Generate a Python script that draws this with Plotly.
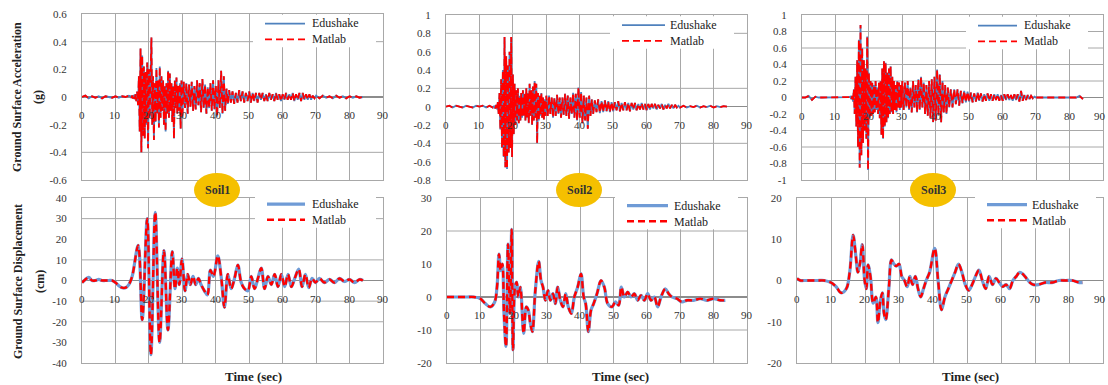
import plotly.graph_objects as go

# ---------------- data ----------------
TIME_ACC = [0, 1, 2, 3, 4, 5, 6, 7, 8, 9, 10, 11, 12, 13, 14,
            14.5, 14.75, 15, 15.25, 15.5, 15.75, 16, 16.25, 16.5, 16.75,
            17, 17.25, 17.5, 17.75, 18, 18.25, 18.5, 18.75, 19, 19.25,
            19.5, 19.75, 20, 20.25, 20.5, 20.75, 21, 21.25, 21.5, 21.75,
            22, 22.25, 22.5, 22.75, 23, 23.25, 23.5, 23.75, 24, 24.25,
            24.5, 24.75, 25, 25.25, 25.5, 25.75, 26, 26.25, 26.5, 26.75,
            27, 27.25, 27.5, 27.75, 28, 28.25, 28.5, 28.75, 29, 29.25,
            29.5, 29.75, 30,
            30.4, 30.8, 31.2, 31.6, 32.0, 32.4, 32.8, 33.2, 33.6, 34.0,
            34.4, 34.8, 35.2, 35.6, 36.0, 36.4, 36.8, 37.2, 37.6, 38.0,
            38.4, 38.8, 39.2, 39.6, 40.0, 40.4, 40.8, 41.2, 41.6, 42.0,
            42.4, 42.8, 43.2, 43.6,
            44, 44.5, 45, 45.5, 46, 46.5, 47, 47.5, 48, 48.5,
            49, 49.5, 50, 50.5, 51, 51.5, 52, 52.5, 53, 53.5,
            54, 54.5, 55, 55.5, 56, 56.5, 57, 57.5, 58, 58.5,
            59, 59.5, 60, 60.5, 61, 61.5, 62, 62.5, 63, 63.5,
            64, 64.5, 65, 65.5, 66, 66.5, 67, 67.5, 68, 68.5,
            69, 69.5,
            70, 71, 72, 73, 74, 75, 76, 77, 78, 79, 80, 81, 82, 83, 84]

ACC_SOIL1 = [0, 0.01, -0.01, 0.005, -0.005, 0.005, -0.01, 0.005, 0, -0.005, 0.005, -0.005, 0.005, 0, 0.01,
             0.005, -0.005, 0.01, -0.01, 0.015, -0.015, 0.02, -0.03, 0.04, -0.06,
             0.15, -0.25, 0.35, -0.40, 0.30, -0.28, 0.22, -0.30, 0.18, -0.20,
             0.25, -0.37, 0.20, -0.15, 0.05, 0.43, -0.20, 0.15, -0.31, 0.10,
             -0.18, 0.21, -0.12, 0.12, -0.22, 0.22, -0.15, 0.15, -0.10, 0.12,
             -0.20, 0.08, -0.25, 0.10, -0.12, 0.19, -0.15, 0.17, -0.10, 0.10,
             -0.18, 0.08, -0.30, 0.12, -0.08, 0.14, -0.12, 0.08, -0.10, 0.10,
             -0.23, 0.12, -0.15,
             0.11, -0.08, 0.10, -0.12, 0.09, -0.07, 0.11, -0.10, 0.08, -0.09,
             0.12, -0.06, 0.10, -0.11, 0.13, -0.08, 0.09, -0.12, 0.07, -0.08,
             0.10, -0.10, 0.12, -0.09, 0.08, -0.14, 0.12, -0.08, 0.19, -0.12,
             0.15, -0.10, 0.06, -0.05,
             0.05, -0.04, 0.04, -0.05, 0.03, -0.04, 0.05, -0.03, 0.04, -0.04,
             0.03, -0.03, 0.04, -0.04, 0.03, -0.03, 0.03, -0.04, 0.03, -0.02,
             0.03, -0.03, 0.02, -0.03, 0.03, -0.02, 0.02, -0.03, 0.03, -0.02,
             0.02, -0.03, 0.02, -0.02, 0.03, -0.02, 0.02, -0.02, 0.03, -0.03,
             0.02, -0.02, 0.03, -0.03, 0.03, -0.02, 0.02, -0.02, 0.02, -0.02,
             0.01, -0.01,
             0.01, -0.01, 0.01, -0.005, 0.005, -0.01, 0.01, -0.005, 0.005, -0.01, 0.005, -0.005, 0.005, -0.005, 0]

ACC_SOIL2 = [0, 0.01, -0.01, 0.01, 0, -0.01, 0.01, 0, -0.01, 0.01, 0, 0.01, -0.01, 0.01, -0.01,
             0.01, -0.02, 0.02, -0.03, 0.05, -0.08, 0.15, -0.25, 0.30, -0.45,
             0.40, -0.55, 0.76, -0.66, 0.55, -0.68, 0.45, -0.50, 0.60, -0.45,
             0.76, -0.55, 0.35, -0.30, 0.25, -0.20, 0.18, -0.15, 0.20, -0.18,
             0.12, -0.15, 0.15, -0.12, 0.18, -0.10, 0.14, -0.15, 0.20, -0.12,
             0.15, -0.18, 0.25, -0.10, 0.18, -0.20, 0.22, -0.15, 0.28, -0.12,
             0.25, -0.40, 0.15, -0.15, 0.12, -0.10, 0.15, -0.12, 0.10, -0.14,
             0.08, -0.10, 0.12,
             -0.10, 0.12, -0.08, 0.10, -0.12, 0.09, -0.10, 0.13, -0.08, 0.10,
             -0.12, 0.10, -0.09, 0.14, -0.10, 0.12, -0.13, 0.10, -0.08, 0.15,
             -0.12, 0.14, -0.15, 0.21, -0.12, 0.16, -0.18, 0.12, -0.15, 0.10,
             -0.24, 0.12, -0.10, 0.08,
             -0.08, 0.07, -0.06, 0.08, -0.07, 0.06, -0.06, 0.07, -0.05, 0.06,
             -0.06, 0.05, -0.05, 0.05, -0.04, 0.06, -0.05, 0.04, -0.04, 0.05,
             -0.04, 0.04, -0.05, 0.04, -0.03, 0.04, -0.04, 0.03, -0.03, 0.04,
             -0.03, 0.03, -0.04, 0.03, -0.03, 0.03, -0.02, 0.03, -0.03, 0.02,
             -0.02, 0.03, -0.03, 0.02, -0.02, 0.03, -0.02, 0.02, -0.02, 0.02,
             -0.01, 0.01,
             -0.01, 0.01, -0.01, 0.005, -0.005, 0.01, -0.01, 0.005, -0.005, 0.01, -0.01, 0.005, -0.005, 0.005, 0]

ACC_SOIL3 = [0, 0, 0.02, -0.03, 0.01, 0, 0, 0, 0, 0, 0, 0, 0, 0, 0.005,
             0.01, -0.02, 0.02, -0.05, 0.10, -0.20, 0.25, -0.35, 0.45, -0.60,
             0.70, -0.85, 0.88, -0.70, 0.60, -0.55, 0.45, -0.40, 0.35, -0.50,
             0.74, -0.88, 0.30, -0.25, 0.20, -0.22, 0.18, -0.20, 0.15, -0.18,
             0.20, -0.15, 0.12, -0.20, 0.18, -0.25, 0.20, -0.45, 0.35, -0.50,
             0.44, -0.35, 0.42, -0.30, 0.30, -0.25, 0.35, -0.20, 0.38, -0.18,
             0.25, -0.20, 0.20, -0.15, 0.15, -0.18, 0.20, -0.12, 0.18, -0.15,
             0.15, -0.12, 0.20,
             -0.15, 0.18, -0.12, 0.20, -0.15, 0.12, -0.18, 0.20, -0.12, 0.15,
             -0.18, 0.22, -0.15, 0.25, -0.12, 0.18, -0.20, 0.15, -0.22, 0.20,
             -0.25, 0.22, -0.30, 0.25, -0.28, 0.34, -0.22, 0.28, -0.30, 0.20,
             -0.18, 0.15, -0.20, 0.12,
             -0.12, 0.10, -0.12, 0.10, -0.08, 0.10, -0.10, 0.08, -0.07, 0.08,
             -0.06, 0.07, -0.05, 0.06, -0.06, 0.05, -0.05, 0.06, -0.04, 0.05,
             -0.05, 0.04, -0.04, 0.05, -0.04, 0.04, -0.04, 0.04, -0.03, 0.04,
             -0.04, 0.03, -0.04, 0.04, -0.03, 0.04, -0.03, 0.03, -0.04, 0.04,
             -0.03, 0.04, -0.05, 0.08, -0.04, 0.03, -0.03, 0.03, -0.02, 0.02,
             -0.01, 0.01,
             0, 0, 0, 0, 0, 0, 0, 0, 0, 0, 0, 0, 0, 0.02, -0.02]

TIME_DISP_SOIL1 = [0, 1, 2, 3, 4, 5, 6, 7, 8, 9,
                   10, 11, 12, 13, 14, 15, 16.8, 18.0, 19.5, 20.6,
                   21.9, 23.2, 24.5, 25.7, 27.0, 27.8, 28.5, 29.1, 29.9, 30.8,
                   31.6, 32.4, 33.2, 34.0, 34.8, 35.6, 36.6, 37.5, 38.4, 39.3,
                   40.6, 41.6, 42.6, 43.6, 44.6, 45.6, 46.6, 47.6, 48.6, 49.6,
                   50.6, 51.6, 52.6, 53.6, 54.6, 55.6, 56.6, 57.6, 58.6, 59.6,
                   60.6, 61.6, 62.6, 63.6, 64.8, 65.8, 66.8, 67.8, 68.8, 69.8,
                   71, 72.5, 74, 75.5, 77, 78.5, 80, 81.5, 83, 84]
DISP_SOIL1 = [-1, 0.5, 1.5, 0, 0, 0.5, 0, 0, 0, 0,
              -1, -2.5, -3.5, -3.5, -2, 2, 17, -19, 30, -36,
              33, -30, 14.5, -24, 14, -4, 6, -2, 10.5, -5,
              3, -2, 2, -2, 1, -2, -5, -7, 5, 2,
              12, 2, -13, 3, -4, 1, 7.5, -1, -4, -5,
              2, -4, 1, 6, -4, 2, -2, 3, -3, 3,
              -3, 3, -3, 1, 5.5, -3, 3, -3.5, 1, -1,
              1, -1, 0.5, -1, 1, -0.5, 0.5, -1, 0.5, 0]

TIME_DISP_SOIL2 = [0, 2, 4, 6, 8, 10, 11.5, 13, 14.3, 15.0,
                   15.6, 16.1, 16.6, 17.1, 17.7, 18.3, 18.9, 19.4, 19.8, 20.4,
                   20.9, 21.4, 22.0, 23.0, 23.8, 24.4, 25.0, 25.6, 26.5, 27.5,
                   28.2, 28.8, 29.5, 30.3, 31.0, 31.8, 32.5, 33.2, 34.0, 34.8,
                   35.6, 36.4, 37.3, 38.2, 39.2, 40.2, 41.0, 41.6, 42.4, 43.2,
                   44.0, 45.0, 46.2, 47.2, 48.2, 49.5, 50.5, 51.5, 52.3, 53.2,
                   54.2, 55.2, 56.2, 57.2, 58.2, 59.2, 60.2, 61.2, 62.2, 63.2,
                   64.2, 65.5, 66.5, 67.5, 69, 70.5, 72, 74, 76, 78,
                   80, 82, 83.5]
DISP_SOIL2 = [0, 0, 0, 0, 0, -0.5, -2, -3, -1.5, 3,
              13, 8, 10, -5, -15, 16, -5, 20.5, -16, 3,
              4.5, 0, 3, -11, -3, -4, -8, -10.5, 2, 10.8,
              5, 3, -1, 2, -1, 1, -2, 3, -1, -3,
              1, -3, -5, 0, 3, 7, 0, -2, -10.5, -4,
              -2, 1, 5, 3, -2, -3, -1.5, -2.5, 3, 0,
              1.5, 0, 1, -1, 0.5, -1, 1, -1, 0, -3,
              0, 2.5, 1, 0, -0.5, -1.5, -1, -1, -0.5, -1,
              -0.5, -1, -1]

TIME_DISP_SOIL3 = [0, 1, 2, 4, 6, 8, 10, 11.5, 13, 14.5,
                   15.5, 16.5, 17.3, 17.9, 18.5, 19.2, 19.9, 20.4, 20.9, 21.6,
                   22.4, 23.2, 23.8, 24.5, 25.1, 25.6, 26.1, 27.0, 27.8, 28.5,
                   29.2, 30.0, 30.8, 31.6, 32.4, 33.2, 34.0, 34.8, 35.6, 36.4,
                   37.2, 38.0, 39.0, 40.5, 41.5, 42.5, 43.5, 44.5, 45.5, 46.5,
                   47.5, 48.5, 49.5, 50.5, 51.5, 52.5, 53.5, 54.5, 55.5, 56.5,
                   57.5, 58.5, 59.5, 60.5, 61.5, 62.5, 63.5, 64.5, 65.5, 66.5,
                   67.5, 68.5, 69.5, 71, 73, 75, 77, 79, 81, 83,
                   84]
DISP_SOIL3 = [0.5, 0, 0, 0, 0, 0, -0.5, -1.5, -3, -2,
              2, 11, 6, 2, 4, 8.7, 0, -2, 3.8, 1,
              -5.5, -4, -10.2, -5, -3, -8, -9.5, -2, 5, 4,
              3.5, 4, 1, 0, -1.5, 1, -1, 1, -2, -4,
              -2, 0, 2, 7.8, 0, -7.1, -4, -2, 0, 2,
              4, 2, -1, -2.4, -1, 1, 2.5, 0, -2, 1,
              -1, 0.5, -0.5, -1.5, -1, -2, 0, 1, 2, 1.5,
              0.5, -0.5, -1, -1, -0.5, -0.5, 0, 0, 0, -0.5,
              -0.5]

SERIES_NAMES = ["Edushake", "Matlab"]
SOIL_LABELS = ["Soil1", "Soil2", "Soil3"]

X_TICKS = [0, 10, 20, 30, 40, 50, 60, 70, 80, 90]
X_TICK_TEXT = ["0", "10", "20", "30", "40", "50", "60", "70", "80", "90"]

Y_TICKS_ACC1 = [-0.6, -0.4, -0.2, 0, 0.2, 0.4, 0.6]
Y_TEXT_ACC1 = ["-0.6", "-0.4", "-0.2", "0", "0.2", "0.4", "0.6"]
Y_TICKS_ACC2 = [-0.8, -0.6, -0.4, -0.2, 0, 0.2, 0.4, 0.6, 0.8, 1]
Y_TEXT_ACC2 = ["-0.8", "-0.6", "-0.4", "-0.2", "0", "0.2", "0.4", "0.6", "0.8", "1"]
Y_TICKS_ACC3 = [-1, -0.8, -0.6, -0.4, -0.2, 0, 0.2, 0.4, 0.6, 0.8, 1]
Y_TEXT_ACC3 = ["-1", "-0.8", "-0.6", "-0.4", "-0.2", "0", "0.2", "0.4", "0.6", "0.8", "1"]
Y_TICKS_DISP1 = [-40, -30, -20, -10, 0, 10, 20, 30, 40]
Y_TICKS_DISP2 = [-20, -10, 0, 10, 20, 30]
Y_TICKS_DISP3 = [-20, -10, 0, 10, 20]

GRID_ACC1 = [0.4, -0.4]
GRID_ACC2 = [0.8, 0.2, -0.4]
GRID_ACC3 = [0.8, 0.6, 0.4, 0.2, -0.4, -0.6, -0.8]
GRID_DISP1 = [30, 10, -10, -20]
GRID_DISP2 = [20, -10]
GRID_DISP3 = []

# ---------------- styling / layout ----------------
W, H = 1108, 385
FONT = "Liberation Serif, Times New Roman, serif"
BLUE_ACC = "#4f81bd"
BLUE_DISP = "#6f9bd6"
RED = "#ff0000"
GRID = "#a8a8a8"
TXT = "#333333"
LEG_SIZE = 12
LEG_GAP = LEG_SIZE * 1.3  # plotly line spacing for multi-line text

panels = [
    dict(t=TIME_ACC, v=ACC_SOIL1, yr=[-0.6, 0.6], tv=Y_TICKS_ACC1, tt=Y_TEXT_ACC1, grid=GRID_ACC1,
         box=(82, 383, 14, 180), leg=(265, 305, 310, 31.5), disp=False),
    dict(t=TIME_ACC, v=ACC_SOIL2, yr=[-0.8, 1.0], tv=Y_TICKS_ACC2, tt=Y_TEXT_ACC2, grid=GRID_ACC2,
         box=(446, 747, 15, 180), leg=(622, 665, 668, 33), disp=False),
    dict(t=TIME_ACC, v=ACC_SOIL3, yr=[-1.0, 1.0], tv=Y_TICKS_ACC3, tt=Y_TEXT_ACC3, grid=GRID_ACC3,
         box=(802, 1103, 15, 180), leg=(978, 1017, 1022, 33.5), disp=False),
    dict(t=TIME_DISP_SOIL1, v=DISP_SOIL1, yr=[-40, 40], tv=Y_TICKS_DISP1, tt=[str(v) for v in Y_TICKS_DISP1],
         grid=GRID_DISP1, box=(82, 383, 198, 363), leg=(267, 305, 310, 212), disp=True),
    dict(t=TIME_DISP_SOIL2, v=DISP_SOIL2, yr=[-20, 30], tv=Y_TICKS_DISP2, tt=[str(v) for v in Y_TICKS_DISP2],
         grid=GRID_DISP2, box=(447, 747, 198, 363), leg=(627, 668, 672, 213.5), disp=True),
    dict(t=TIME_DISP_SOIL3, v=DISP_SOIL3, yr=[-20, 20], tv=Y_TICKS_DISP3, tt=[str(v) for v in Y_TICKS_DISP3],
         grid=GRID_DISP3, box=(797, 1103, 198, 363), leg=(987, 1027, 1030, 212.5), disp=True),
]


def px_x(v):
    return v / W


def px_y(v):
    return 1 - v / H


fig = go.Figure()
layout = dict(width=W, height=H, autosize=False,
              margin=dict(l=0, r=0, t=0, b=0, autoexpand=False),
              paper_bgcolor="white", plot_bgcolor="white", showlegend=False)
shapes = []
annotations = []

for i, p in enumerate(panels, start=1):
    sfx = "" if i == 1 else str(i)
    xname, yname = "x" + sfx, "y" + sfx
    l, r, t, b = p["box"]
    blue = BLUE_DISP if p["disp"] else BLUE_ACC
    bw = 3.2 if p["disp"] else 1.8
    rw = 2.4 if p["disp"] else 1.8
    shape = "spline" if p["disp"] else "linear"
    dash = "7px,4px"

    fig.add_trace(go.Scatter(x=p["t"], y=p["v"], mode="lines", name=SERIES_NAMES[0],
                             line=dict(color=blue, width=bw, shape=shape),
                             xaxis=xname, yaxis=yname, showlegend=False))
    fig.add_trace(go.Scatter(x=p["t"], y=p["v"], mode="lines", name=SERIES_NAMES[1],
                             line=dict(color=RED, width=rw, dash=dash, shape=shape),
                             xaxis=xname, yaxis=yname, showlegend=False))

    layout["xaxis" + sfx] = dict(domain=[px_x(l), px_x(r)], range=[0, 90], anchor=yname,
                                 tickmode="array", tickvals=X_TICKS, showticklabels=False,
                                 showgrid=True, gridcolor=GRID, gridwidth=1, zeroline=False,
                                 showline=True, mirror=True, linecolor=GRID, linewidth=1,
                                 fixedrange=True)
    layout["yaxis" + sfx] = dict(domain=[px_y(b), px_y(t)], range=p["yr"], anchor=xname,
                                 tickmode="array", tickvals=p["tv"], ticktext=p["tt"],
                                 showgrid=False, zeroline=True, zerolinecolor="#8c8c8c",
                                 zerolinewidth=1.3, showline=True, mirror=True, linecolor=GRID,
                                 linewidth=1, ticks="", ticklabelstandoff=12,
                                 tickfont=dict(family=FONT, size=11, color=TXT), fixedrange=True)

    for g in p["grid"]:
        shapes.append(dict(type="line", xref=xname + " domain", x0=0, x1=1, yref=yname, y0=g, y1=g,
                           line=dict(color=GRID, width=1), layer="below"))
    for k, (xv, xt) in enumerate(zip(X_TICKS, X_TICK_TEXT)):
        shift = -3 if (k == len(X_TICKS) - 1 and r > 1090) else 0
        annotations.append(dict(xref=xname, yref=yname, x=xv, y=0, text=xt, showarrow=False,
                                yanchor="middle", xanchor="center", yshift=-18, xshift=shift,
                                font=dict(family=FONT, size=11, color=TXT)))

    # legend (drawn as shapes + one two-line text)
    lx0, lx1, tx, cy = p["leg"]
    r1, r2 = cy - LEG_GAP / 2, cy + LEG_GAP / 2
    shapes.append(dict(type="rect", xref="paper", yref="paper",
                       x0=px_x(lx0 - 12), x1=px_x(min(tx + 66, W - 3)), y0=px_y(r2 + 8), y1=px_y(r1 - 9),
                       fillcolor="white", line=dict(width=0), layer="above"))
    shapes.append(dict(type="line", xref="paper", yref="paper",
                       x0=px_x(lx0), x1=px_x(lx1), y0=px_y(r1), y1=px_y(r1),
                       line=dict(color=blue, width=bw), layer="above"))
    shapes.append(dict(type="line", xref="paper", yref="paper",
                       x0=px_x(lx0), x1=px_x(lx1), y0=px_y(r2), y1=px_y(r2),
                       line=dict(color=RED, width=rw, dash=dash), layer="above"))
    annotations.append(dict(xref="paper", yref="paper", x=px_x(tx), y=px_y(cy),
                            text="<br>".join(SERIES_NAMES), align="left",
                            showarrow=False, xanchor="left", yanchor="middle",
                            font=dict(family=FONT, size=LEG_SIZE, color="#222222")))

# y-axis titles
for txt, cx, cy in (("<b>Ground Surface Acceleration</b>", 17, 97), ("<b>(g)</b>", 38, 97),
                    ("<b>Ground Surface Displacement</b>", 18, 282), ("<b>(cm)</b>", 40, 282)):
    annotations.append(dict(xref="paper", yref="paper", x=px_x(cx), y=px_y(cy), showarrow=False,
                            textangle=-90, text=txt, xanchor="center", yanchor="middle",
                            font=dict(family=FONT, size=12, color="#222222")))

# x-axis titles
for cx in (253, 620, 970):
    annotations.append(dict(xref="paper", yref="paper", x=px_x(cx), y=px_y(376), showarrow=False,
                            xanchor="center", yanchor="middle",
                            text="<b>Time (sec)</b>", font=dict(family=FONT, size=13, color="#222222")))

# soil badges
for lab, cx in zip(SOIL_LABELS, (217, 579, 933)):
    shapes.append(dict(type="circle", xref="paper", yref="paper",
                       x0=px_x(cx - 23), x1=px_x(cx + 23), y0=px_y(207), y1=px_y(173),
                       fillcolor="#f5c000", line=dict(width=0), layer="above"))
    annotations.append(dict(xref="paper", yref="paper", x=px_x(cx), y=px_y(190), showarrow=False,
                            xanchor="center", yanchor="middle",
                            text="<b>" + lab + "</b>", font=dict(family=FONT, size=12, color="#333333")))

layout["shapes"] = shapes
layout["annotations"] = annotations
fig.update_layout(**layout)
fig.write_html("out.html", config={"displayModeBar": False, "staticPlot": True},
               post_script="document.body.style.margin='0';document.body.style.padding='0';"
                           "document.body.style.overflow='hidden';")
